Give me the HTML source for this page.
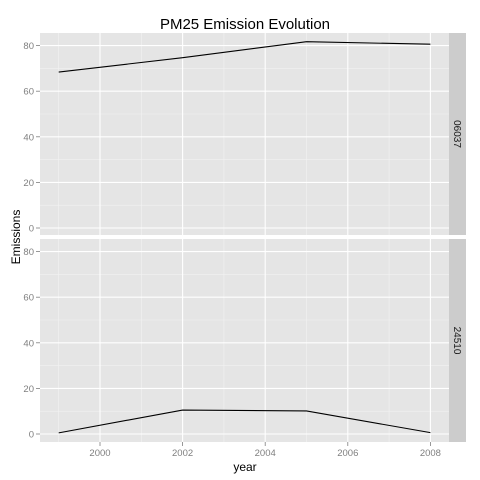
<!DOCTYPE html>
<html><head><meta charset="utf-8"><style>
body{margin:0;background:#fff;}
svg{display:block;font-family:"Liberation Sans",sans-serif;}
</style></head><body>
<svg id="chart" width="480" height="480"></svg>
<script>
const years=[1999,2002,2005,2008];
const facets=["06037","24510"];
const series06037=[68.4,74.7,81.7,80.6];
const series24510=[0.5,10.5,10.1,0.6];
const xTicks=[2000,2002,2004,2006,2008];
const yTicks=[0,20,40,60,80];
const NS="http://www.w3.org/2000/svg";
const svg=document.getElementById('chart');
function mk(t,a,p){const e=document.createElementNS(NS,t);for(const k in a)e.setAttribute(k,a[k]);(p||svg).appendChild(e);return e;}
const left=40,right=449;
const xs=y=>100+(y-2000)*41.3;
const panels=[{top:33,bottom:235,zero:228,data:series06037},{top:239,bottom:442,zero:434,data:series24510}];
const yScale=(p,v)=>p.zero-v*2.28;
panels.forEach((p,i)=>{
  const g=mk('g',{});
  
  
  const bg=mk('rect',{x:left,y:p.top,width:right-left,height:p.bottom-p.top,fill:'#e5e5e5'},g);
  
  
  // minor grid
  for(let k=0;k<yTicks.length-1;k++){const v=(yTicks[k]+yTicks[k+1])/2;const yy=yScale(p,v);
    const l=mk('line',{x1:left,x2:right,y1:yy,y2:yy,stroke:'#f2f2f2','stroke-width':0.6},g);
    }
  [1999,2001,2003,2005,2007].forEach(v=>{const xx=xs(v);
    const l=mk('line',{x1:xx,x2:xx,y1:p.top,y2:p.bottom,stroke:'#f2f2f2','stroke-width':0.6},g);
    });
  yTicks.forEach(v=>{const yy=yScale(p,v);
    const l=mk('line',{x1:left,x2:right,y1:yy,y2:yy,stroke:'#fff','stroke-width':1.1},g);
    
    const tk=mk('line',{x1:left-4,x2:left,y1:yy,y2:yy,stroke:'#7f7f7f','stroke-width':0.8},g);
    
    const t=mk('text',{x:left-6,y:yy+3.5,'text-anchor':'end','font-size':9.5,fill:'#7f7f7f'},g);t.textContent=v;
    });
  xTicks.forEach(v=>{const xx=xs(v);
    const l=mk('line',{x1:xx,x2:xx,y1:p.top,y2:p.bottom,stroke:'#fff','stroke-width':1.1},g);
    });
  const pts=years.map((y,j)=>xs(y)+','+yScale(p,p.data[j])).join(' ');
  const line=mk('polyline',{points:pts,fill:'none',stroke:'#000','stroke-width':1.1},g);
  
  const st=mk('rect',{x:right,y:p.top,width:17,height:p.bottom-p.top,fill:'#cccccc'},g);
  
  const cy=(p.top+p.bottom)/2,cx=right+8.5;
  const lt=mk('text',{x:cx,y:cy,'text-anchor':'middle','font-size':10,fill:'#1a1a1a',transform:`rotate(90 ${cx} ${cy}) translate(0 3.5)`},g);
  lt.textContent=facets[i];
});
xTicks.forEach(v=>{const xx=xs(v);
  const tk=mk('line',{x1:xx,x2:xx,y1:442,y2:446,stroke:'#7f7f7f','stroke-width':0.8});
  
  const t=mk('text',{x:xx,y:456,'text-anchor':'middle','font-size':9.5,fill:'#7f7f7f'});t.textContent=v;
  });
const title=mk('text',{x:245,y:29,'text-anchor':'middle','font-size':15,fill:'#000'});title.textContent='PM25 Emission Evolution';

const xt=mk('text',{x:245,y:471,'text-anchor':'middle','font-size':12,fill:'#000'});xt.textContent='year';

const yt=mk('text',{x:20,y:237,'text-anchor':'middle','font-size':12,fill:'#000',transform:'rotate(-90 20 237)'});yt.textContent='Emissions';

</script>
</body></html>
